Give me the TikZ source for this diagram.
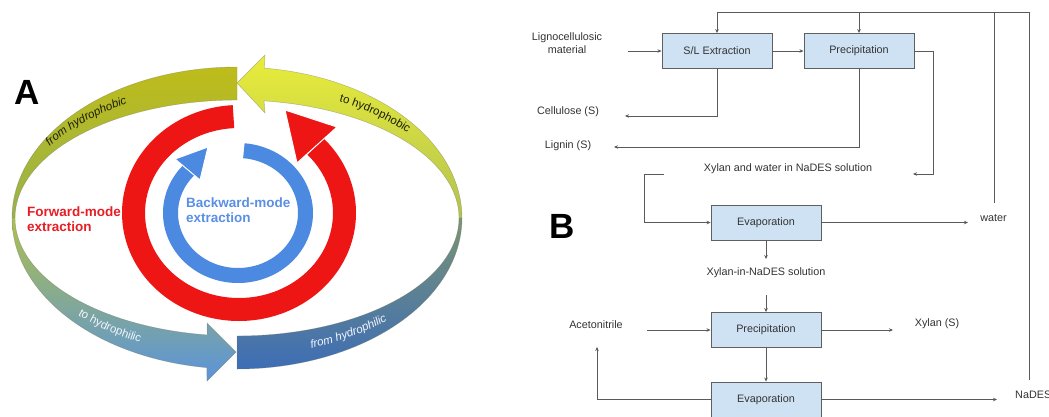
\documentclass[tikz,border=0pt]{standalone}
\usepackage{fontspec}
\setmainfont{Liberation Sans}
\usetikzlibrary{arrows.meta,decorations.text}

% ring and band colours
\definecolor{ringred}{HTML}{EE1515}
\definecolor{ringblue}{HTML}{4C89E0}
\definecolor{fwdred}{HTML}{E61E26}
\definecolor{bwdblue}{HTML}{5A8FE6}
\definecolor{olivetop}{HTML}{BEBC1A}
\definecolor{olivebot}{HTML}{98B24C}
\definecolor{yeltop}{HTML}{E9ED3A}
\definecolor{yelbot}{HTML}{B2C250}
\definecolor{llTop}{HTML}{AEC04C}
\definecolor{llMid}{HTML}{86A8B2}
\definecolor{llBot}{HTML}{5A93DC}
\definecolor{lrTop}{HTML}{7A9474}
\definecolor{lrMid}{HTML}{5A80A4}
\definecolor{lrBot}{HTML}{3D6DB6}
\definecolor{bandedge}{HTML}{7A7A60}
\definecolor{darktext}{HTML}{1E1E08}
\definecolor{lighttext}{HTML}{F2F5FF}
% flow sheet colours
\definecolor{boxline}{HTML}{5F5F5F}
\definecolor{boxfill}{HTML}{CFE2F3}
\definecolor{linegray}{HTML}{5A5A5A}
\definecolor{textgray}{HTML}{333333}

\begin{document}
\begin{tikzpicture}[x=1pt,y=-1pt,
  band/.style={draw=bandedge, draw opacity=0.55, line width=0.4pt},
  procbox/.style={draw=boxline, fill=boxfill, line width=0.9pt, minimum width=110pt,
    minimum height=35pt, inner sep=0pt, font=\fontsize{10.8}{12}\selectfont, text=textgray},
  lbl/.style={font=\fontsize{10.8}{13}\selectfont, text=textgray, inner sep=0pt},
  flow/.style={draw=linegray, line width=0.7pt, -{Stealth[length=4pt,width=3.5pt]}},
  pipe/.style={draw=linegray, line width=0.7pt},
  panel/.style={font=\bfseries\fontsize{35}{35}\selectfont, inner sep=0pt},
  modetext/.style={font=\bfseries\fontsize{13.5}{15}\selectfont, align=left, anchor=west, inner sep=0pt}]
\useasboundingbox (0,0) rectangle (1049,416);
\fill[white] (0,0) rectangle (1049,416);

% ---------- outer band, four quarters ----------
% upper left: from hydrophobic
\path[band, top color=olivetop, bottom color=olivebot]
  plot[domain=90:180,samples=60] ({237+225*cos(\x)},{218-151*sin(\x)})
  -- plot[domain=180:90,samples=60] ({237+222*cos(\x)},{218-118*sin(\x)}) -- cycle;
% upper right with arrowhead: to hydrophobic
\path[band, top color=yeltop, bottom color=yelbot]
  plot[domain=0:83,samples=60] ({237+225*cos(\x)},{218-151*sin(\x)})
  -- (265,55) -- (237,83) -- (265,113)
  -- plot[domain=83:0,samples=60] ({237+222*cos(\x)},{218-118*sin(\x)}) -- cycle;
% lower left with arrowhead: to hydrophilic
\path[band, top color=llTop, middle color=llMid, bottom color=llBot]
  plot[domain=180:262.3,samples=60] ({237+225*cos(\x)},{218-151*sin(\x)})
  -- (207,381) -- (236,352) -- (207,323)
  -- plot[domain=262.3:180,samples=60] ({237+222*cos(\x)},{218-118*sin(\x)}) -- cycle;
% lower right: from hydrophilic
\path[band, top color=lrTop, middle color=lrMid, bottom color=lrBot]
  plot[domain=270:360,samples=60] ({237+225*cos(\x)},{218-151*sin(\x)})
  -- plot[domain=360:270,samples=60] ({237+222*cos(\x)},{218-118*sin(\x)}) -- cycle;

% band captions, set along elliptic arcs
\path[decorate, decoration={text along path, text align=center,
  text={|\fontsize{11.5}{11.5}\selectfont\itshape\color{darktext}|from hydrophobic}}]
  ({237+224*cos(161)},{218-131*sin(161)})
  arc[start angle=-161, end angle=-109, x radius=224, y radius=131];
\path[decorate, decoration={text along path, text align=center,
  text={|\fontsize{11.5}{11.5}\selectfont\color{darktext}|to hydrophobic}}]
  ({237+224*cos(74)},{218-131*sin(74)})
  arc[start angle=-74, end angle=-26, x radius=224, y radius=131];
\path[decorate, decoration={text along path, text align=center,
  text={|\fontsize{11.5}{11.5}\selectfont\color{lighttext}|to hydrophilic}}]
  ({237+224*cos(209)},{218-138*sin(209)})
  arc[start angle=-209, end angle=-257, x radius=224, y radius=138];
\path[decorate, decoration={text along path, text align=center,
  text={|\fontsize{11.5}{11.5}\selectfont\itshape\color{lighttext}|from hydrophilic}}]
  ({237+224*cos(278)},{218-138*sin(278)})
  arc[start angle=-278, end angle=-326, x radius=224, y radius=138];

% ---------- forward-mode ring ----------
\draw[ringred, line width=23pt]
  plot[domain=93:403.5,samples=150] ({239+105.5*cos(\x)},{213-96.5*sin(\x)});
\filldraw[fill=ringred, draw=white, line width=1pt] (285,110) -- (337,127) -- (297,163) -- cycle;

% ---------- backward-mode ring ----------
\draw[ringblue, line width=15pt]
  plot[domain=85:-224,samples=150] ({238+67.5*cos(\x)},{213-62.5*sin(\x)});
\filldraw[fill=ringblue, draw=white, line width=1pt] (208,147) -- (175,159) -- (200,180) -- cycle;

% ---------- labels of panel A ----------
\node[panel] (labA) at (27.5,92.5) {A};
\node[modetext, text=fwdred] (fwd) at (27,219.5) {Forward-mode\\extraction};
\node[modetext, text=bwdblue] (bwd) at (186,210.5) {Backward-mode\\extraction};

% ---------- panel B: process flow sheet ----------
\node[panel] (labB) at (562.5,226.5) {B};

\node[procbox] (sl)  at (717,51)    {S/L Extraction};
\node[procbox] (pr1) at (859,51)    {Precipitation};
\node[procbox] (ev1) at (766,222.5) {Evaporation};
\node[procbox] (pr2) at (766,330)   {Precipitation};
\node[procbox] (ev2) at (766,399.5) {Evaporation};

\node[lbl, align=center] (lig) at (567,43.5) {Lignocellulosic\\material};
\node[lbl] (cel) at (568,112) {Cellulose (S)};
\node[lbl] (lgn) at (568,146) {Lignin (S)};
\node[lbl] (xws) at (788,169) {Xylan and water in NaDES solution};
\node[lbl] (wat) at (993.5,218) {water};
\node[lbl] (xns) at (766,273) {Xylan-in-NaDES solution};
\node[lbl] (acn) at (596,325) {Acetonitrile};
\node[lbl] (xyl) at (937,324) {Xylan (S)};
\node[lbl, anchor=west] (nad) at (1015,395) {NaDES};

\coordinate (ligout) at (628,51);
\coordinate (celin) at (625,116);
\coordinate (lgnin) at (614,147);
\coordinate (top1) at (717,12);
\coordinate (top2) at (859,12);
\coordinate (topw) at (994,12);
\coordinate (topn) at (1029,12);
\coordinate (watup) at (994,203);
\coordinate (nadup) at (1029,380);
\coordinate (pr1turn) at (933,174);
\coordinate (xwsin) at (913,174);
\coordinate (xwsout) at (664,174);
\coordinate (xwsturn) at (644,174);
\coordinate (watin) at (968,222.5);
\coordinate (xnsin) at (766,259);
\coordinate (xnsout) at (766,295);
\coordinate (acnout) at (647,330);
\coordinate (xylin) at (893,330);
\coordinate (acnin) at (597,347);
\coordinate (nadin) at (997,399.5);

\draw[flow] (ligout) -- (sl.west);
\draw[flow] (sl.east) -- (pr1.west);
\draw[pipe] (nadup) -- (topn) -- (top1);
\draw[pipe] (watup) -- (topw);
\draw[flow] (top1) -- (sl.north);
\draw[flow] (top2) -- (pr1.north);
\draw[flow] (sl.south) |- (celin);
\draw[flow] (pr1.south) |- (lgnin);
\draw[flow] (pr1.east) -| (pr1turn) -- (xwsin);
\draw[flow] (xwsout) -- (xwsturn) |- (ev1.west);
\draw[flow] (ev1.east) -- (watin);
\draw[flow] (ev1.south) -- (xnsin);
\draw[flow] (xnsout) -- (pr2.north);
\draw[flow] (acnout) -- (pr2.west);
\draw[flow] (pr2.east) -- (xylin);
\draw[flow] (pr2.south) -- (ev2.north);
\draw[flow] (ev2.west) -| (acnin);
\draw[flow] (ev2.east) -- (nadin);
\end{tikzpicture}
\end{document}
